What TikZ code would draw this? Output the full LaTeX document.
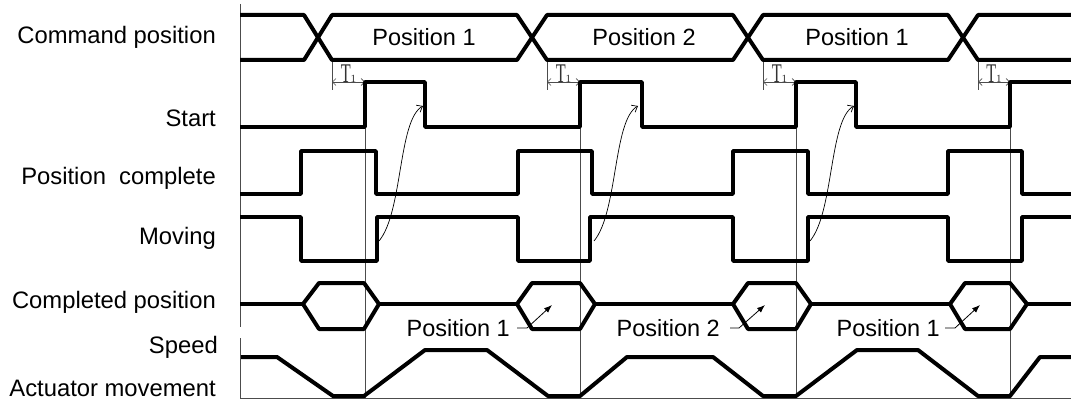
\documentclass[tikz,border=0pt]{standalone}
\usepackage{fontspec}
\setmainfont{Liberation Sans}
\newfontfamily\tfont{Liberation Serif}
\usepackage{graphicx}
\usetikzlibrary{arrows.meta}
\begin{document}
\begin{tikzpicture}[x=1pt,y=-1pt,
  sig/.style={line width=4pt, line join=bevel},
  guide/.style={line width=0.8pt, gray!60!black},
  curvearrow/.style={line width=0.7pt, black, -{Straight Barb[length=5pt,width=8pt]}},
  tarrow/.style={line width=0.7pt, gray!60!black, {Straight Barb[length=3.5pt,width=7pt]}-{Straight Barb[length=3.5pt,width=7pt]}},
  leader/.style={line width=0.8pt, black, -{Latex[length=8pt,width=6pt]}},
  lbl/.style={anchor=east, inner sep=0pt, font=\fontsize{23.8}{28}\selectfont},
  txt/.style={inner sep=0pt, font=\fontsize{23.5}{28}\selectfont},
  tone/.style={inner sep=0pt, text=gray!40!black}]
\useasboundingbox (0,0) rectangle (1071,401);

% signal names
\node[lbl] (lcmd) at (216,37) {Command position};
\node[lbl] (lstart) at (216,118) {Start};
\node[lbl] (lpc) at (216,178) {Position\ \ complete};
\node[lbl] (lmov) at (216,238) {Moving};
\node[lbl] (lcp) at (216,302) {Completed position};
\node[lbl] (lspd) at (218,347) {Speed};
\node[lbl] (lact) at (216,388) {Actuator movement};

% axes
\draw[guide] (240,4) -- (240,327);
\draw[guide] (240,338) -- (240,398) -- (1071,398);

% guide lines at start rising edges
\foreach \x in {365,580,796,1010}
  \draw[guide] (\x,127) -- (\x,398);

% T1 markers
\foreach \a/\b/\n in {332/365/a,547/580/b,763/796/c,978/1010/d}{
  \draw[guide] (\a,62) -- (\a,90);
  \draw[tarrow] (\a,82) -- (\b,82);
  \node[tone, anchor=south] (t1\n) at ({(\a+\b)/2},83) {\scalebox{0.6}[1]{\tfont\fontsize{27}{27}\selectfont T}\raisebox{0pt}{\tfont\fontsize{11}{11}\selectfont 1}};
}

% command position bus
\draw[sig] (240,15) -- (304,15) -- (332,60) -- (517,60) -- (547,15) -- (733,15) -- (763,60) -- (948,60) -- (978,15) -- (1071,15);
\draw[sig] (240,60) -- (304,60) -- (332,15) -- (517,15) -- (547,60) -- (733,60) -- (763,15) -- (948,15) -- (978,60) -- (1071,60);
\node[txt] (cp1) at (424,37) {Position 1};
\node[txt] (cp2) at (644,37) {Position 2};
\node[txt] (cp3) at (857,37) {Position 1};

% start
\draw[sig] (240,127) -- (365,127) -- (365,82) -- (425,82) -- (425,127) -- (580,127) -- (580,82) -- (642,82) -- (642,127) -- (796,127) -- (796,82) -- (856,82) -- (856,127) -- (1010,127) -- (1010,82) -- (1071,82);

% position complete
\draw[sig] (240,194) -- (301,194) -- (301,151) -- (376,151) -- (376,194) -- (518,194) -- (518,151) -- (592,151) -- (592,194) -- (733,194) -- (733,151) -- (808,151) -- (808,194) -- (948,194) -- (948,151) -- (1022,151) -- (1022,194) -- (1071,194);

% moving
\draw[sig] (240,217) -- (301,217) -- (301,261) -- (377,261) -- (377,217) -- (518,217) -- (518,261) -- (590,261) -- (590,217) -- (733,217) -- (733,261) -- (808,261) -- (808,217) -- (948,217) -- (948,261) -- (1022,261) -- (1022,217) -- (1071,217);

% causal curves
\draw[curvearrow] (379,241) .. controls (403,212) and (398,120) .. (423,106);
\draw[curvearrow] (594,241) .. controls (618,212) and (613,120) .. (638,106);
\draw[curvearrow] (810,241) .. controls (834,212) and (829,120) .. (854,106);

% completed position
\draw[sig] (240,304) -- (303,304);
\draw[sig] (303,304) -- (319,283) -- (364,283) -- (379,304) -- (364,329) -- (319,329) -- cycle;
\draw[sig] (379,304) -- (517,304);
\draw[sig] (517,304) -- (532,283) -- (580,283) -- (595,304) -- (580,329) -- (532,329) -- cycle;
\draw[sig] (595,304) -- (733,304);
\draw[sig] (733,304) -- (748,283) -- (796,283) -- (811,304) -- (796,329) -- (748,329) -- cycle;
\draw[sig] (811,304) -- (950,304);
\draw[sig] (950,304) -- (965,283) -- (1010,283) -- (1027,304) -- (1010,329) -- (965,329) -- cycle;
\draw[sig] (1027,304) -- (1071,304);

% completed position labels
\node[txt, anchor=east] (pl1) at (510,328) {Position 1};
\node[txt, anchor=east] (pl2) at (720,328) {Position 2};
\node[txt, anchor=east] (pl3) at (940,328) {Position 1};
\coordinate (pa1) at (552,305);
\coordinate (pa2) at (765,305);
\coordinate (pa3) at (980,305);
\draw[leader] ([xshift=7pt]pl1.east) -- ++(10,0) -- (pa1);
\draw[leader] ([xshift=10pt]pl2.east) -- ++(9,0) -- (pa2);
\draw[leader] ([xshift=5pt]pl3.east) -- ++(10,0) -- (pa3);

% speed
\draw[sig] (241,357) -- (277,357) -- (333,396) -- (364,396) -- (425,350) -- (487,350) -- (548,396) -- (580,396) -- (627,357) -- (713,357) -- (763,396) -- (796,396) -- (857,350) -- (918,350) -- (978,396) -- (1010,396) -- (1040,357) -- (1071,357);
\end{tikzpicture}
\end{document}
